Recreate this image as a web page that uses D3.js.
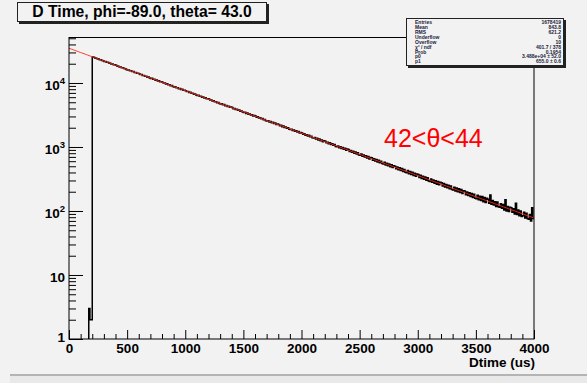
<!DOCTYPE html>
<html>
<head>
<meta charset="utf-8">
<script src="https://cdn.jsdelivr.net/npm/d3@7"></script>
<style>
  html, body { margin: 0; padding: 0; background: #f2f2f2; }
  svg { display: block; }
  text { font-family: "Liberation Sans", Arial, Helvetica, sans-serif; }
</style>
</head>
<body>
<svg id="canvas" width="587" height="383"></svg>
<script>
// ---- data ----------------------------------------------------------------
const histTitle = "D Time, phi=-89.0, theta= 43.0";
const xAxisTitle = "Dtime (us)";
const thetaLabel = "42<θ<44";

const xMajorTicks = [0, 500, 1000, 1500, 2000, 2500, 3000, 3500, 4000];
const yMajorTicks = [1, 10, 100, 1000, 10000];
const xRange = [0, 4000];
const yRange = [1, 52300];

// histogram: first bin lower edge and bin width (us), then counts per bin
const binStart = 170;
const binWidth = 10;
const counts = [
  3, 2, 2,
  25480, 25260, 24610, 24420, 23870, 23700, 23150, 23010, 22480, 22330,
  21760, 21690, 21120, 21050, 20480, 20400, 19850, 19810, 19240, 19190,
  18910, 18390, 18330, 17840, 17790, 17300, 17260, 16770, 16740, 16280,
  16020, 16000, 15540, 15520, 15060, 15060, 14610, 14610, 14170, 14180,
  13950, 13530, 13540, 13120, 13130, 12730, 12740, 12340, 12360, 11970,
  11790, 11810, 11430, 11450, 11080, 11120, 10750, 10790, 10420, 10460,
  10300, 9960, 9990, 9660, 9690, 9370, 9400, 9090, 9120, 8810,
  8680, 8710, 8410, 8450, 8160, 8200, 7910, 7950, 7670, 7710,
  7590, 7330, 7360, 7110, 7140, 6900, 6920, 6690, 6720, 6490,
  6390, 6420, 6190, 6230, 6000, 6050, 5820, 5870, 5650, 5690,
  5600, 5400, 5430, 5230, 5270, 5080, 5110, 4920, 4960, 4780,
  4700, 4740, 4560, 4600, 4420, 4460, 4290, 4330, 4160, 4200,
  4130, 3970, 4010, 3850, 3890, 3740, 3770, 3630, 3660, 3510,
  3460, 3500, 3350, 3390, 3250, 3290, 3150, 3200, 3060, 3100,
  3050, 2920, 2960, 2830, 2870, 2750, 2780, 2670, 2700, 2580,
  2540, 2580, 2460, 2510, 2390, 2430, 2320, 2360, 2250, 2290,
  2250, 2150, 2180, 2080, 2120, 2020, 2050, 1960, 1990, 1900,
  1870, 1900, 1810, 1850, 1760, 1790, 1710, 1740, 1650, 1690,
  1660, 1580, 1610, 1530, 1560, 1490, 1520, 1440, 1470, 1400,
  1380, 1410, 1330, 1370, 1290, 1330, 1250, 1290, 1210, 1250,
  1230, 1160, 1190, 1120, 1160, 1090, 1120, 1060, 1090, 1020,
  1010, 1040, 975, 1010, 950, 985, 920, 955, 890, 930,
  910, 852, 884, 826, 860, 800, 835, 775, 810, 750,
  740, 775, 716, 752, 695, 730, 672, 710, 652, 688,
  678, 622, 656, 604, 638, 585, 620, 566, 600, 550,
  542, 575, 525, 558, 508, 542, 492, 526, 478, 510,
  502, 456, 488, 442, 474, 428, 462, 414, 446, 402,
  396, 428, 383, 414, 372, 402, 360, 390, 350, 378,
  372, 334, 362, 322, 350, 312, 340, 303, 330, 294,
  290, 316, 282, 306, 272, 298, 262, 290, 256, 282,
  276, 246, 268, 238, 260, 230, 252, 222, 246, 216,
  212, 234, 206, 228, 200, 222, 194, 216, 188, 208,
  206, 180, 198, 174, 192, 168, 188, 162, 182, 158,
  156, 176, 150, 170, 146, 168, 140, 162, 136, 158,
  152, 132, 178, 128, 146, 124, 140, 118, 138, 116,
  114, 130, 110, 126, 104, 150, 100, 118, 98, 114,
  112, 96, 108, 90, 132, 88, 104, 84, 100, 82,
  84, 96, 78, 92, 76, 74, 88, 70, 112, 76
];
const underflow = 0;
const overflow = 10;

// exponential fit  f(t) = p0 * exp(-t / p1)
const fitP0 = 34880, fitP0Err = 52;
const fitP1 = 655.0, fitP1Err = 0.6;
const fitChi2 = "401.7 / 378";
const fitProb = "0.1954";

// ---- layout --------------------------------------------------------------
const frame = { left: 69, right: 534, top: 37, bottom: 339 };
const svg = d3.select("#canvas");

svg.append("rect").attr("width", 587).attr("height", 383).attr("fill", "#f2f2f2");
// window bottom edge
svg.append("rect").attr("x", 10).attr("y", 374).attr("width", 577).attr("height", 2).attr("fill", "#b4b4b4");
svg.append("rect").attr("x", 10).attr("y", 376).attr("width", 577).attr("height", 7).attr("fill", "#e9e9e9");

const x = d3.scaleLinear().domain(xRange).range([frame.left, frame.right]);
const y = d3.scaleLog().domain(yRange).range([frame.bottom, frame.top]);

svg.append("clipPath").attr("id", "frameClip")
  .append("rect")
  .attr("x", frame.left).attr("y", frame.top)
  .attr("width", frame.right - frame.left).attr("height", frame.bottom - frame.top);

const plot = svg.append("g").attr("clip-path", "url(#frameClip)");

// histogram as a step outline; empty bins sit on the frame floor
const yFloor = yRange[0];
const steps = [[binStart, yFloor]];
counts.forEach((c, i) => {
  const lo = binStart + i * binWidth, hi = lo + binWidth;
  const v = Math.max(c, yFloor);
  steps.push([lo, v], [hi, v]);
});
plot.append("path")
  .attr("d", d3.line().x(d => x(d[0])).y(d => y(d[1]))(steps))
  .attr("fill", "none")
  .attr("stroke", "#000")
  .attr("stroke-width", 1.5);

// fitted exponential
const fitPts = d3.range(0, 4000.1, 20).map(t => [t, fitP0 * Math.exp(-t / fitP1)]);
plot.append("path")
  .attr("d", d3.line().x(d => x(d[0])).y(d => y(d[1]))(fitPts))
  .attr("fill", "none")
  .attr("stroke", "#ff2a1a")
  .attr("stroke-width", 0.9);

// ---- axes ----------------------------------------------------------------
const xMinor = d3.range(0, 4001, 100).filter(v => v % 500 !== 0);
svg.append("g")
  .attr("transform", `translate(0,${frame.bottom})`)
  .call(d3.axisBottom(x).tickValues(xMinor).tickSize(-5).tickFormat(""))
  .call(g => g.select(".domain").remove());

const xAxis = svg.append("g")
  .attr("transform", `translate(0,${frame.bottom})`)
  .call(d3.axisBottom(x).tickValues(xMajorTicks).tickSize(-9).tickPadding(4.5).tickFormat(d3.format("d")))
  .call(g => g.select(".domain").remove());
xAxis.selectAll("text")
  .attr("font-size", "13.5px").attr("font-weight", "bold")
  .attr("font-family", "Liberation Sans, Arial, sans-serif")
  .attr("fill", "#000");

const yMinor = [];
yMajorTicks.forEach(d => { for (let k = 2; k <= 9; k++) if (d * k <= yRange[1]) yMinor.push(d * k); });
svg.append("g")
  .attr("transform", `translate(${frame.left},0)`)
  .call(d3.axisLeft(y).tickValues(yMinor).tickSize(-7).tickFormat(""))
  .call(g => g.select(".domain").remove());

const yAxis = svg.append("g")
  .attr("transform", `translate(${frame.left},0)`)
  .call(d3.axisLeft(y).tickValues(yMajorTicks).tickSize(-14).tickPadding(4).tickFormat(""))
  .call(g => g.select(".domain").remove());
yAxis.selectAll(".tick text").each(function (d) {
  const t = d3.select(this)
    .attr("font-size", "13.5px").attr("font-weight", "bold")
    .attr("font-family", "Liberation Sans, Arial, sans-serif")
    .attr("fill", "#000")
    .attr("dy", d === 1 ? "2px" : "6.5px");
  const e = Math.round(Math.log10(d));
  if (e < 2) {
    t.text(String(d));
  } else {
    t.text(null);
    t.append("tspan").text("10");
    t.append("tspan").attr("font-size", "9.5px").attr("dy", "-6px").text(String(e));
  }
});

// frame
svg.append("rect")
  .attr("x", frame.left).attr("y", frame.top + 0.5)
  .attr("width", frame.right - frame.left).attr("height", frame.bottom - frame.top - 0.5)
  .attr("fill", "none").attr("stroke", "#000").attr("stroke-width", 1);

// x-axis title
svg.append("text")
  .attr("x", frame.right + 1).attr("y", 366.5)
  .attr("text-anchor", "end")
  .attr("font-size", "13.5px").attr("font-weight", "bold")
  .text(xAxisTitle);

// angular range label
svg.append("text")
  .attr("x", 384).attr("y", 147)
  .attr("font-size", "25px")
  .attr("fill", "#ff0000")
  .text(thetaLabel);

// ---- title box ----------------------------------------------------------
function shadowBox(x0, y0, w, h) {
  svg.append("rect").attr("x", x0 + 2).attr("y", y0 + 2).attr("width", w).attr("height", h).attr("fill", "#222");
  svg.append("rect").attr("x", x0 + 0.5).attr("y", y0 + 0.5).attr("width", w - 1).attr("height", h - 1)
    .attr("fill", "#f2f2f2").attr("stroke", "#222").attr("stroke-width", 1);
}
shadowBox(17, 2, 250, 20);
svg.append("text")
  .attr("x", 142).attr("y", 17)
  .attr("text-anchor", "middle")
  .attr("font-size", "15.7px").attr("font-weight", "bold")
  .text(histTitle);

// ---- statistics box ------------------------------------------------------
const total = d3.sum(counts);
const centers = counts.map((c, i) => binStart + (i + 0.5) * binWidth);
const mean = d3.sum(counts, (c, i) => c * centers[i]) / total;
const rms = Math.sqrt(d3.sum(counts, (c, i) => c * (centers[i] - mean) ** 2) / total);

const statNames = ["Entries", "Mean", "RMS", "Underflow", "Overflow", "χ² / ndf", "Prob", "p0", "p1"];
const statValues = [
  String(total + underflow + overflow),
  mean.toFixed(1),
  rms.toFixed(1),
  String(underflow),
  String(overflow),
  fitChi2,
  fitProb,
  `${fitP0.toExponential(3).replace("e+", "e+0")} ± ${fitP0Err.toFixed(1)}`,
  `${fitP1.toFixed(1)} ± ${fitP1Err.toFixed(1)}`
];
const stat = { x: 406, y: 18, w: 158, h: 48 };
shadowBox(stat.x, stat.y, stat.w, stat.h);
const rowH = (stat.h - 4) / statNames.length;
statNames.forEach((name, i) => {
  const by = stat.y + 2 + rowH * (i + 0.5) + 1.8;
  svg.append("text").attr("x", stat.x + 9).attr("y", by)
    .attr("font-size", "5px").attr("font-weight", "bold").attr("fill", "#1a1a3a")
    .text(name);
  svg.append("text").attr("x", stat.x + stat.w - 3).attr("y", by)
    .attr("text-anchor", "end")
    .attr("font-size", "5px").attr("font-weight", "bold").attr("fill", "#1a1a3a")
    .text(statValues[i]);
});
</script>
</body>
</html>
